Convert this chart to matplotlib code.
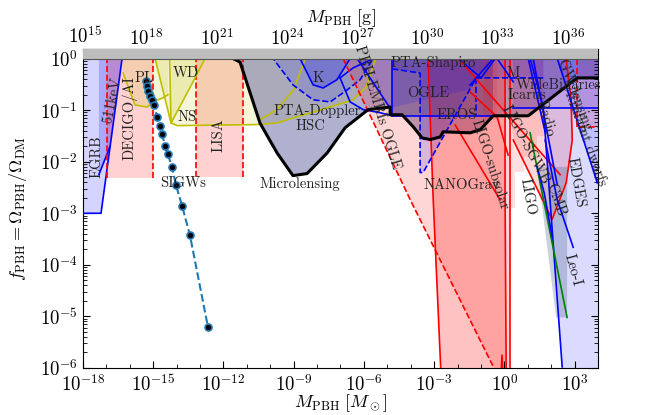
import numpy as np
import matplotlib
matplotlib.use("Agg")
import matplotlib.pyplot as plt
from matplotlib.ticker import FixedLocator, FuncFormatter, NullFormatter, LogLocator

plt.rcParams['mathtext.fontset'] = 'cm'
plt.rcParams['axes.formatter.use_mathtext'] = True

MSUN_G = 1.989e33

# ---------------- data (log10 M/Msun , log10 f) ----------------
egrb_lm = [-18, -17.23, -16.33, -18]
egrb_lf = [-3, -3, 0, 0]
kev511_lm = [-17.32, -16.85, -16.33, -17.32]
kev511_lf = [-2.25, -1.71, 0, 0]
decigo_lm = [-16.97, -15.01, -15.01, -16.97]
decigo_lf = [-2.31, -2.31, 0, 0]
lisa_lm = [-13.17, -11.16, -11.16, -13.17]
lisa_lf = [-2.29, -2.29, 0, 0]
pl_lm = [-16.29, -16.29, -15.78, -15.26, -15.01, -14.58, -14.37, -14.37]
pl_lf = [0, -0.28, -0.90, -0.94, -0.84, -0.76, -0.70, 0]
wd_lm = [-14.92, -14.24, -13.21, -12.79]
wd_lf = [0, -1.25, -0.375, 0]
ns_lm = [-14.24, -13.98, -10.56, -9.71, -9.03, -8.17, -7.31, -6.46, -5.9, -5.5, -14.24]
ns_lf = [-1.25, -1.30, -1.28, -1.25, -1.15, -1.04, -0.92, -0.80, -0.55, 0, 0]
yel2_lm = [-10.44, -9.71, -9.0, -8.5]
yel2_lf = [-1.19, -0.99, -0.6, 0]
hsc_lm = [-11.59, -11.29, -10.44, -9.71, -9.03, -8.43, -7.57, -6.80, -5.82, -4.88, -4.88,
          -4.37, -3.90, -3.51, -3.17, -2.74, -2.62, -1.46, -1.03, -0.48, 1.02, 3.11, 4.01]
hsc_lf = [0, -0.07, -1.25, -1.83, -2.27, -2.23, -1.83, -1.34, -0.99, -0.94, -1.09,
          -1.09, -1.32, -1.54, -1.57, -1.52, -1.42, -1.44, -1.38, -1.11, -1.11, -0.375, -0.375]
k_lm = [-8.73, -8.17, -7.74, -7.15, -6.59]
k_lf = [0, -0.51, -0.57, -0.41, 0]
doppler_lm = [-11.16, -9.88, -9.03, -8.17, -7.44, -6.72, -6.16, -5.61]
doppler_lf = [0, 0, -0.51, -0.80, -0.84, -0.61, -0.41, 0]
ring_low_lm = [-7.02, -6.59, -6.03, -5.31, -4.79]
ring_low_lf = [-0.375, -0.84, -0.99, -1.05, -1.11]
ring_up_lm = [-7.02, -6.46, -5.74]
ring_up_lf = [-0.375, -0.18, -0.03]
emri_lm = [-6.89, -4.03, -0.48, -0.44, 0.25, 0.25]
emri_lf = [0, -2.73, -5.97, -6.2, -6.2, 0]
nano_lm = [-3.26, -3.04, -2.70, 0.08, 0.03, 0.03]
nano_lf = [0, -2.73, -6.2, -6.2, -2.73, 0]
ogle_lm = [-4.79, -4.79, -3.60, -3.60, -3.47, -1.20, 1.66, 1.66]
ogle_lf = [0, -0.2, -0.28, -2.21, -2.21, -0.375, -0.375, 0]
icarus_lm = [-1.20, -1.20]
icarus_lf = [-0.375, -1.09]
eros_lm = [-4.79, -4.79, -0.48, -0.48]
eros_lf = [0, -1.11, -1.11, 0]
shapiro_lm = [-6.29, -4.88, -1.5, -0.99, -0.39]
shapiro_lf = [0, -0.96, -0.6, -0.375, 0]
sgwb_lm = [-1.97, 2.38]
sgwb_lf = [0, -2.25]
subsolar_lm = [-2.10, -0.18]
subsolar_lf = [-1.29, -2.74]
red2_lm = [-1.46, -0.31, 0.16]
red2_lf = [-0.65, -1.13, -1.87]
spike_lm = [-0.15, -0.10, -0.05]
spike_lf = [-6.2, -5.75, -6.2]
stripe_lo = [-0.9, 0.25, 0.45, 0.85, 1.4]
stripe_hi = [-0.3, 0.45, 0.85, 1.4, 1.7]
stripe_bot = [-1.2, -2.9, -2.2, -1.9, -1.5]
cmb_lm = [0.38, 2.04, 2.64, 2.90, 2.85, 2.64, 0.0]
cmb_lf = [-1.58, -3.12, -2.41, -1.58, -0.80, 0, 0]
dwarf_lm = [1.10, 1.66, 2.47, 2.48, 4.01, 4.01]
dwarf_lf = [0, -0.94, -5.98, -6.2, -6.2, 0]
ligo_lm = [1.40, 2.21, 2.68, 2.68]
ligo_lf = [-2.10, -5.02, -5.02, -2.10]
green_lm = [1.10, 2.68]
green_lf = [-1.44, -5.02]
leo_lm = [1.74, 2.26, 2.94]
leo_lf = [-1.58, -2.74, -3.66]
edges_lm = [2.26, 3.97, 4.01, 4.01]
edges_lf = [0, -2.41, -2.5, 0]
wide_lm = [0.38, 0.38, 4.01, 4.01]
wide_lf = [0, -0.955, -0.955, 0]
gwl_lm = [3.11, 3.11, 4.01, 4.01]
gwl_lf = [0, -1.32, -1.32, 0]
blue_lines = [([-0.48, -1.46], [0, -0.51]),
              ([-0.31, 0.38], [0, -0.45]),
              ([1.02, 1.74], [0, -1.42]),
              ([1.23, 2.26], [0, -2.45]),
              ([1.40, 1.70, 2.04], [-2.10, -2.6, -3.45])]

sig_lm = [-15.31, -15.26, -15.22, -15.14, -15.05, -14.97, -14.84, -14.71, -14.62,
          -14.50, -14.37, -14.20, -14.03, -13.77, -13.43, -12.66]
sig_lf = [-0.43, -0.53, -0.63, -0.72, -0.80, -0.90, -1.13, -1.30, -1.46,
          -1.69, -1.86, -2.10, -2.45, -2.85, -3.43, -5.21]

labels = [
    ("EGRB", -17.40, -1.91, 90), ("511keV", -16.76, -0.80, 78),
    ("DECIGO/AI", -15.99, -1.15, 90), ("PL", -15.38, -0.375, 0),
    ("WD", -13.60, -0.28, 0), ("NS", -13.56, -1.13, 0),
    ("SIGWs", -13.73, -2.41, 0), ("LISA", -12.19, -1.48, 90),
    ("Microlensing", -8.73, -2.43, 0), ("PTA-Doppler", -8.0, -1.02, 0),
    ("HSC", -8.30, -1.32, 0), ("K", -7.96, -0.375, 0),
    ("PTA-Shapiro", -3.04, -0.08, 0), ("PBH-EMRIs OGLE", -5.44, -0.94, -73),
    ("OGLE", -3.26, -0.68, 0), ("EROS", -2.02, -1.09, 0),
    ("NANOGrav", -1.80, -2.45, 0), ("LIGO-subsolar", -0.61, -2.06, -72),
    ("LIGO-SGWB", 0.89, -1.67, -62), ("CMB", 2.17, -2.74, -70),
    ("LIGO", 0.97, -2.68, -80), ("Leo-I", 2.90, -4.09, -75),
    ("EDGES", 3.03, -2.41, -80), ("Ultrafaint dwarfs", 3.40, -1.45, -70),
    ("GW lensing", 3.03, -0.70, -69), ("WideBinaries", 2.30, -0.51, 0),
    ("Icarus", 0.97, -0.70, 0), ("M", 0.38, -0.28, 0), ("Radio", 1.74, -1.15, -75),
]

xticks_major = list(range(-18, 4, 3))
yticks_major = list(range(-6, 1))
gticks_major = list(range(18, 37, 3))

# ---------------- plotting ----------------
fig = plt.figure(figsize=(6.64, 4.15), dpi=100)
ax = fig.add_axes([0.125, 0.1133, 0.7756, 0.7687])
ax.set_xscale('log')
ax.set_yscale('log')

P = lambda a: 10.0 ** np.asarray(a, dtype=float)
RED = (1, 0, 0)
BLUE = (0, 0, 1)
YEL = (0.75, 0.75, 0)


def fill(lm, lf, color, alpha, z=1):
    ax.fill(P(lm), P(lf), facecolor=color, alpha=alpha, edgecolor='none', zorder=z)


def line(lm, lf, color, ls='-', lw=1.2, z=3):
    ax.plot(P(lm), P(lf), color=color, ls=ls, lw=lw, zorder=z)


fill(egrb_lm, egrb_lf, BLUE, 0.17)
line(egrb_lm[:3], egrb_lf[:3], BLUE)
fill(kev511_lm, kev511_lf, BLUE, 0.2)
line(kev511_lm[:2], kev511_lf[:2], BLUE)

for lm, lf in [(decigo_lm, decigo_lf), (lisa_lm, lisa_lf)]:
    fill(lm, lf, RED, 0.18)
    line([lm[0], lm[0]], [lf[0], 0], RED, '--')
    line([lm[1], lm[1]], [lf[1], 0], RED, '--')

fill(pl_lm, pl_lf, YEL, 0.15)
line(pl_lm[1:7], pl_lf[1:7], YEL)
fill(wd_lm, wd_lf, YEL, 0.18)
line(wd_lm, wd_lf, YEL)
line([-14.30, -14.24], [0, -1.25], YEL)
fill(ns_lm, ns_lf, YEL, 0.15)
line(ns_lm[:10], ns_lf[:10], YEL)
line(yel2_lm, yel2_lf, YEL)

fill(hsc_lm + [4.01], hsc_lf + [0], (80/255, 80/255, 150/255), 0.45)
line(hsc_lm, hsc_lf, 'black', lw=2.2, z=4)

fill(k_lm, k_lf, BLUE, 0.2)
line(k_lm, k_lf, BLUE)
fill(doppler_lm, doppler_lf, BLUE, 0.12)
line(doppler_lm, doppler_lf, BLUE, '--')
line(ring_low_lm, ring_low_lf, BLUE)
line(ring_up_lm, ring_up_lf, BLUE)

fill(emri_lm, emri_lf, RED, 0.16)
line(emri_lm[:4], emri_lf[:4], RED, '--')
fill(nano_lm, nano_lf, RED, 0.24)
line(nano_lm[:3], nano_lf[:3], RED)
line(nano_lm[3:], nano_lf[3:], RED)
line([0.25, 0.25], [0, -6.2], RED)
line(spike_lm, spike_lf, RED)

fill(ogle_lm, ogle_lf, BLUE, 0.15)
line(ogle_lm[1:7], ogle_lf[1:7], BLUE, '--')
line(icarus_lm, icarus_lf, BLUE, '--')
fill(eros_lm, eros_lf, (0.2, 0.1, 0.45), 0.3)
line(eros_lm[:3], eros_lf[:3], BLUE)
fill(shapiro_lm, shapiro_lf, BLUE, 0.15)
line(shapiro_lm[:2], shapiro_lf[:2], BLUE)
line(shapiro_lm[3:], shapiro_lf[3:], BLUE)
line([-1.97, -0.99], [0, -0.375], BLUE)

for lo, hi, b in zip(stripe_lo, stripe_hi, stripe_bot):
    fill([lo, hi, hi, lo], [b, b, 0, 0], RED, 0.12)

line(sgwb_lm, sgwb_lf, RED)
line(subsolar_lm, subsolar_lf, RED)
line(red2_lm, red2_lf, RED)
fill(cmb_lm, cmb_lf, RED, 0.15)
line(cmb_lm[:6], cmb_lf[:6], RED)

fill(dwarf_lm, dwarf_lf, BLUE, 0.14)
line(dwarf_lm[:3], dwarf_lf[:3], BLUE)
fill(ligo_lm, ligo_lf, (0.3, 0.42, 0.55), 0.3)
line(green_lm, green_lf, 'green')
line(leo_lm, leo_lf, BLUE)
fill(edges_lm, edges_lf, BLUE, 0.12)
line(edges_lm[:2], edges_lf[:2], BLUE)
fill(wide_lm, wide_lf, BLUE, 0.12)
line(wide_lm[1:3], wide_lf[1:3], BLUE)
fill(gwl_lm, gwl_lf, RED, 0.12)
line(gwl_lm[:3], gwl_lf[:3], RED, '--')
for lm, lf in blue_lines:
    line(lm, lf, BLUE)

# f > 1 band
ax.fill_between([1e-18, 1e4], 1, 2, color='#bdbdbd', zorder=5, lw=0)
ax.axhline(1, color='#555555', lw=0.8, zorder=5)

# SIGWs
ax.plot(P(sig_lm), P(sig_lf), ls='--', color='#1f77b4', lw=1.5, marker='o',
        markersize=5, markerfacecolor='black', markeredgecolor='#1f77b4',
        markeredgewidth=1.2, zorder=6)

for txt, lm, lf, rot in labels:
    ax.text(10**lm, 10**lf, txt, rotation=rot, ha='center', va='center',
            fontsize=10.5, family='cmr10', color='#222222', zorder=7,
            rotation_mode='anchor')

ax.set_xlim(1e-18, 1e4)
ax.set_ylim(1e-6, 10**0.186)

fmt = FuncFormatter(lambda v, p: r'$10^{%d}$' % int(round(np.log10(v))))
ax.xaxis.set_major_locator(FixedLocator(P(xticks_major)))
ax.xaxis.set_minor_locator(FixedLocator(P(range(-18, 5))))
ax.xaxis.set_major_formatter(fmt)
ax.xaxis.set_minor_formatter(NullFormatter())
ax.yaxis.set_major_locator(FixedLocator(P(yticks_major)))
ax.yaxis.set_minor_locator(LogLocator(base=10, subs=np.arange(2, 10), numticks=30))
ax.yaxis.set_major_formatter(fmt)
ax.yaxis.set_minor_formatter(NullFormatter())
ax.tick_params(which='both', direction='in', right=True, top=False, labelsize=13.5)
ax.tick_params(which='major', length=5, pad=4)
ax.tick_params(which='minor', length=3)

sec = ax.secondary_xaxis('top', functions=(lambda m: m * MSUN_G, lambda g: g / MSUN_G))
sec.xaxis.set_major_locator(FixedLocator(P(gticks_major)))
sec.xaxis.set_minor_locator(FixedLocator(P(range(16, 38))))
sec.xaxis.set_major_formatter(fmt)
sec.xaxis.set_minor_formatter(NullFormatter())
sec.tick_params(which='both', direction='in', labelsize=13.5, pad=0)
sec.tick_params(which='major', length=5)
sec.tick_params(which='minor', length=3)
sec.set_xlabel(r'$M_{\rm PBH}\ [{\rm g}]$', fontsize=13, labelpad=4)
# leftmost gram label (sits just inside the left edge)
ax.text(0.003, 1.006, r'$10^{15}$', transform=ax.transAxes, ha='center', va='bottom',
        fontsize=13.5)

ax.set_xlabel(r'$M_{\rm PBH}\ [M_\odot]$', fontsize=13)
ax.xaxis.set_label_coords(0.5, -0.075)
ax.set_ylabel(r'$f_{\rm PBH} = \Omega_{\rm PBH}/\Omega_{\rm DM}$', fontsize=13)
ax.yaxis.set_label_coords(-0.105, 0.5)

fig.savefig('out.png', dpi=100)
